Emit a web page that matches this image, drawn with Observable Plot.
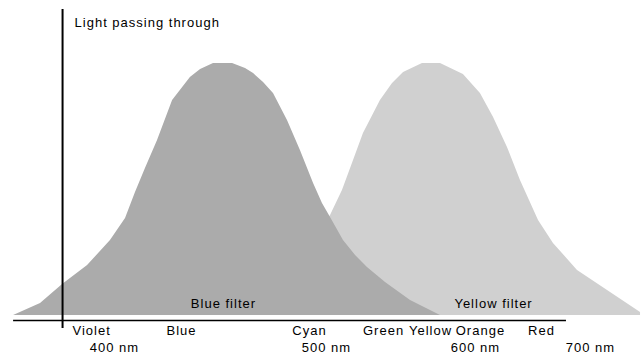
<!DOCTYPE html>
<html><head><meta charset="utf-8">
<script src="https://cdn.jsdelivr.net/npm/d3@7"></script>
<script src="https://cdn.jsdelivr.net/npm/@observablehq/plot@0.6"></script>
<style>body{margin:0;background:#fff;}</style>
</head><body><div id="chart"></div>
<script>
// Blue filter transmission curve (wavelength nm, % light passing)
const blueWl = [352.4,365.1,375.5,387.3,398.1,405.2,409.9,414.6,420.3,427.4,435.8,440.6,446.7,455.7,461.8,465.6,470.3,475.0,481.6,487.7,493.9,498.1,502.7,511.4,519.5,527.5,539.6,556.4,576.5];
const blueT  = [0,4.8,12.3,19.8,29.8,38.5,48.8,58.3,69.4,85.3,94.4,97.6,100,100,98.0,96.0,92.5,88.1,77.4,65.5,52.4,44.4,38.9,29.8,23.8,19.0,13.1,6.0,0];
// Yellow filter transmission curve
const yellowWl = [440.6,450.0,468.9,483.0,492.5,502.7,510.7,517.4,524.8,536.2,544.3,551.7,564.4,576.5,591.9,604.3,615.7,627.8,639.1,654.8,667.8,688.7,714.8,743.5];
const yellowT  = [0,1.2,7.9,15.9,25.8,39.7,49.6,60.3,72.2,85.3,92.1,96.4,100,100,95.6,88.1,78.6,66.7,53.6,37.7,28.6,17.9,9.9,1.2];
// Colour band names and their centre wavelengths
const bandNames = ["Violet","Blue","Cyan","Green","Yellow","Orange","Red"];
const bandWl = [389.2,431.6,492.0,538.3,569.8,604.3,657.4];
// Wavelength tick labels
const tickNm = [400,500,600,700];
// Filter labels
const filterNames = ["Blue filter","Yellow filter"];
const filterWl = [451.4,615.7];
const axisWl = 375.5;     // wavelength where the vertical axis sits
const axisEndWl = 679.1;  // end of the horizontal axis line
const title = "Light passing through";

const blue = blueWl.map((x,i)=>({x, y: blueT[i]}));
const yellow = yellowWl.map((x,i)=>({x, y: yellowT[i]}));
const bands = bandNames.map((name,i)=>({name, x: bandWl[i]}));
const filters = filterNames.map((name,i)=>({name, x: filterWl[i]}));

const chart = Plot.plot({
  width: 641, height: 354,
  marginTop: 63, marginBottom: 39, marginLeft: 0, marginRight: 0,
  style: {fontFamily: "'Liberation Sans', Arial, sans-serif", fontSize: "13px", letterSpacing: "1px", background: "#fff", color: "#000"},
  x: {type: "linear", domain: tickNm, range: [114,326,475,590], label: null},
  y: {domain: [0,100], axis: null, label: null},
  marks: [
    Plot.areaY(yellow, {x: "x", y: "y", fill: "#d0d0d0"}),
    Plot.areaY(blue, {x: "x", y: "y", fill: "#ababab"}),
    Plot.ruleY([0], {x1: () => blueWl[0], x2: () => axisEndWl, dy: 5, stroke: "#000", strokeWidth: 1.7}),
    Plot.ruleX([axisWl], {stroke: "#000", strokeWidth: 2, insetTop: -54, insetBottom: -13}),
    Plot.axisX({ticks: tickNm, tickFormat: d => `${d} nm`, tickSize: 0, tickPadding: 27, fontSize: 13, fill: "#000", label: null}),
    Plot.text(bands, {x: "x", text: "name", frameAnchor: "bottom", dy: 19, fill: "#000"}),
    Plot.text(filters, {x: "x", text: "name", frameAnchor: "bottom", dy: -8, fill: "#000"}),
    Plot.text([title], {x: () => axisWl, text: d => d, frameAnchor: "top", dy: -46, dx: 12, textAnchor: "start", fill: "#000"})
  ]
});
document.getElementById("chart").appendChild(chart);
</script>
</body></html>
